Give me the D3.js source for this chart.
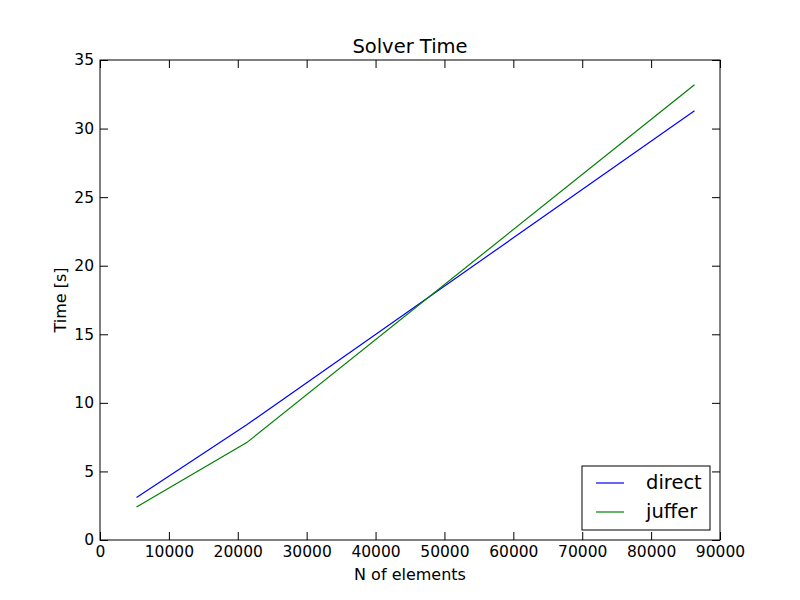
<!DOCTYPE html>
<html>
<head>
<meta charset="utf-8">
<script src="https://cdn.jsdelivr.net/npm/d3@7"></script>
<style>
body { margin: 0; background: #fff; }
text { font-family: "DejaVu Sans", sans-serif; }
</style>
</head>
<body>
<div id="chart"></div>
<script>
// data
const nElements = [5300, 21300, 86300];
const directTime = [3.1, 8.4, 31.3];
const jufferTime = [2.4, 7.1, 33.2];
const xTicks = [0, 10000, 20000, 30000, 40000, 50000, 60000, 70000, 80000, 90000];
const yTicks = [0, 5, 10, 15, 20, 25, 30, 35];
const seriesNames = ["direct", "juffer"];
const seriesColors = ["#0000ff", "#008000"];

const width = 800;
const height = 600;
const margin = {left:100, right:80, top:60, bottom:60};

const svg = d3.select("#chart")
  .append("svg")
  .attr("width", width)
  .attr("height", height);

const x = d3.scaleLinear().domain([0, 90000]).range([margin.left, width - margin.right]);
const y = d3.scaleLinear().domain([0, 35]).range([height - margin.bottom, margin.top]);

// axes, ticks pointing inward like matplotlib classic
const tk = 8;
svg.append("g")
  .attr("transform", `translate(0,${height - margin.bottom})`)
  .call(d3.axisBottom(x).tickValues(xTicks).tickFormat(d3.format("d")).tickSizeInner(-tk).tickSizeOuter(0).tickPadding(6))
  .call(g => g.select(".domain").remove());
svg.append("g")
  .attr("transform", `translate(0,${margin.top})`)
  .call(d3.axisTop(x).tickValues(xTicks).tickFormat("").tickSizeInner(-tk).tickSizeOuter(0))
  .call(g => g.select(".domain").remove());
svg.append("g")
  .attr("transform", `translate(${margin.left},0)`)
  .call(d3.axisLeft(y).tickValues(yTicks).tickSizeInner(-tk).tickSizeOuter(0).tickPadding(6))
  .call(g => g.select(".domain").remove());
svg.append("g")
  .attr("transform", `translate(${width - margin.right},0)`)
  .call(d3.axisRight(y).tickValues(yTicks).tickFormat("").tickSizeInner(-tk).tickSizeOuter(0))
  .call(g => g.select(".domain").remove());
svg.selectAll(".tick text").attr("font-size", 15.5).attr("fill", "#000");
svg.selectAll(".tick line").attr("stroke", "#000");

// lines
const line = d3.line().x(d => x(d[0])).y(d => y(d[1]));
[directTime, jufferTime].forEach((vals, i) => {
  svg.append("path")
    .datum(nElements.map((n, j) => [n, vals[j]]))
    .attr("fill", "none")
    .attr("stroke", seriesColors[i])
    .attr("stroke-width", 1.2)
    .attr("d", line);
});

// frame
svg.append("rect")
  .attr("x", margin.left).attr("y", margin.top)
  .attr("width", width - margin.left - margin.right)
  .attr("height", height - margin.top - margin.bottom)
  .attr("fill", "none").attr("stroke", "#000");

// titles
svg.append("text").attr("x", 410).attr("y", 53).attr("text-anchor", "middle")
  .attr("font-size", 19.5).text("Solver Time");
svg.append("text").attr("x", 410).attr("y", 580).attr("text-anchor", "middle")
  .attr("font-size", 16).text("N of elements");
svg.append("text").attr("transform", "translate(66,300) rotate(-90)").attr("text-anchor", "middle")
  .attr("font-size", 16).text("Time [s]");

// legend
const lg = svg.append("g").attr("transform", "translate(582,466)");
lg.append("rect").attr("width", 128).attr("height", 64).attr("fill", "#fff").attr("stroke", "#000");
seriesNames.forEach((name, i) => {
  const yy = 17 + i * 29;
  lg.append("line").attr("x1", 14).attr("x2", 42).attr("y1", yy).attr("y2", yy)
    .attr("stroke", seriesColors[i]).attr("stroke-width", 1.2);
  lg.append("text").attr("x", 64).attr("y", yy + 6).attr("font-size", 19.5).text(name);
});
</script>
</body>
</html>
